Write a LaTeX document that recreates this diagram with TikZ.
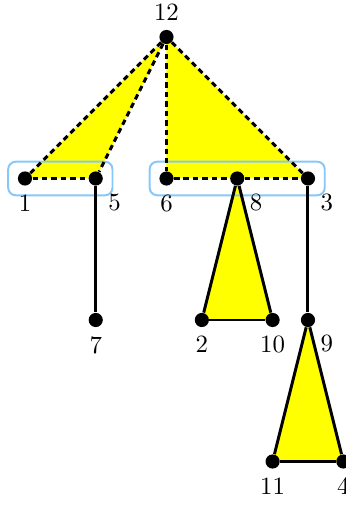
\documentclass[tikz,border=0pt]{standalone}
\usepackage{xcolor}
\usepackage{tikz}
\usetikzlibrary{fit,backgrounds}

\definecolor{grpblue}{RGB}{135,200,250}
\definecolor{faceyellow}{RGB}{255,255,0}

\begin{document}
\begin{tikzpicture}[
  vert/.style={circle, fill=black, inner sep=0pt, minimum size=2mm},
  tedge/.style={line width=1.2pt},
  cedge/.style={tedge, dash pattern=on 2.2pt off 1.6pt},
  face/.style={fill=faceyellow},
  grp/.style={draw=grpblue, rounded corners=3pt, line width=0.8pt,
              inner sep=1.3mm},
]
\useasboundingbox (-0.353,0.523) rectangle (4.537,-6.629);

% ================= vertices =================
\node[vert, label=above:{12}] (v12) at (2,0) {};

\node[vert, label=below:{1}]    (v1) at (0,-2) {};
\node[vert, label=-60:{5}]      (v5) at (1,-2) {};
\node[vert, label=below:{6}]    (v6) at (2,-2) {};
\node[vert, label=-60:{8}]      (v8) at (3,-2) {};
\node[vert, label=-60:{3}]      (v3) at (4,-2) {};

\node[vert, label=below:{7}]    (v7)  at (1,-4)   {};
\node[vert, label=below:{2}]    (v2)  at (2.5,-4) {};
\node[vert, label=below:{10}]   (v10) at (3.5,-4) {};
\node[vert, label=-60:{9}]      (v9)  at (4,-4)   {};

\node[vert, label=below:{11}]   (v11) at (3.5,-6) {};
\node[vert, label=below:{4}]    (v4)  at (4.5,-6) {};

\begin{scope}[on background layer]
  % yellow faces
  \fill[face] (v12.center) -- (v1.center) -- (v5.center) -- cycle;
  \fill[face] (v12.center) -- (v6.center) -- (v3.center) -- cycle;
  \fill[face] (v8.center) -- (v2.center) -- (v10.center) -- cycle;
  \fill[face] (v9.center) -- (v11.center) -- (v4.center) -- cycle;

  % groups
  \node[grp, fit=(v1)(v5)] (g1) {};
  \node[grp, fit=(v6)(v3)] (g2) {};

  % contracted edges, dashed
  \foreach \a/\b in {v12/v1, v12/v5, v1/v5, v12/v6, v12/v3, v6/v8, v8/v3}
    \draw[cedge] (\a) -- (\b);

  % tree edges, solid
  \foreach \a/\b in {v5/v7, v3/v9, v8/v2, v8/v10, v2/v10, v9/v11, v9/v4, v11/v4}
    \draw[tedge] (\a) -- (\b);
\end{scope}

\end{tikzpicture}
\end{document}
